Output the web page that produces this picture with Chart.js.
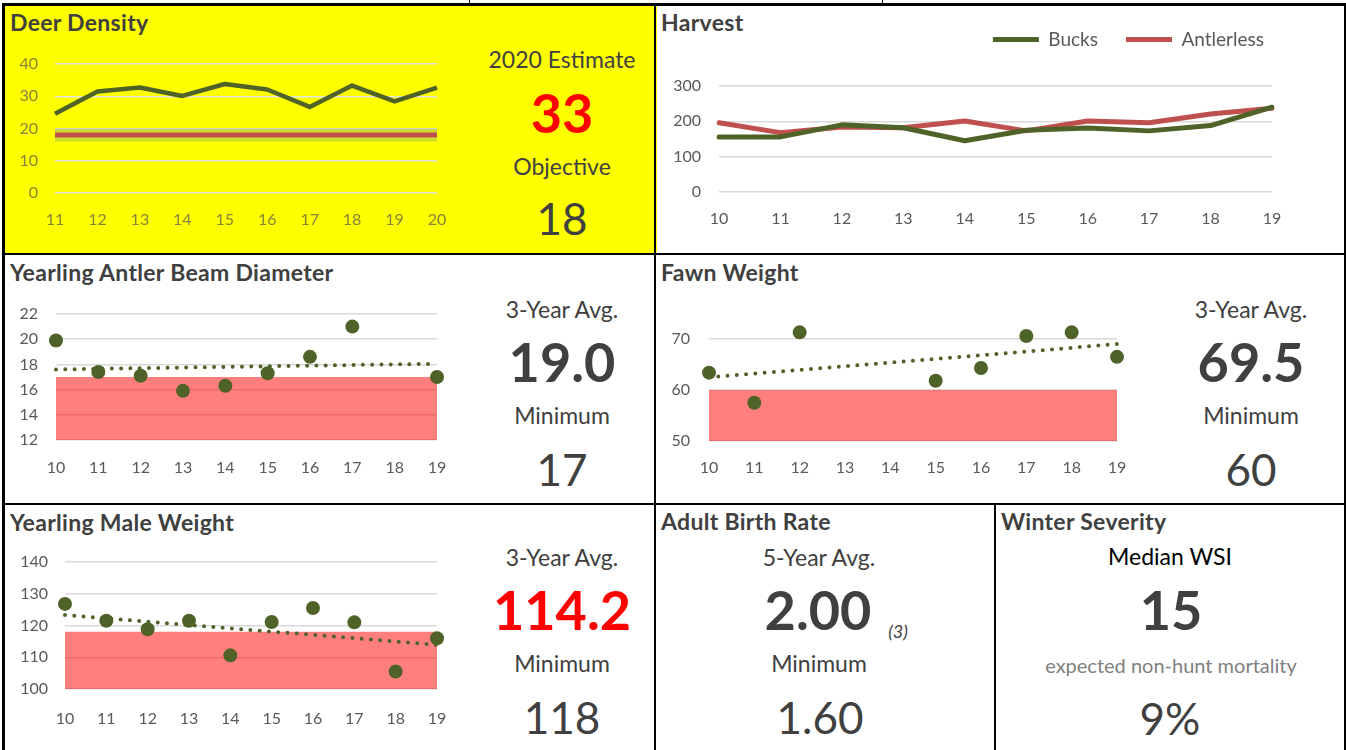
<!DOCTYPE html>
<html>
<head>
<meta charset="utf-8">
<title>Deer Dashboard</title>
<script src="https://cdn.jsdelivr.net/npm/chart.js@4.4.1/dist/chart.umd.min.js"></script>
<style>
  body { margin: 0; background: #fff; font-family: Lato, "Open Sans", sans-serif; }
  #page { position: relative; width: 1346px; height: 750px; overflow: hidden; }
  .ln { position: absolute; background: #000; }
  .t { position: absolute; font-weight: bold; font-size: 23px; letter-spacing: 0.3px; color: #404040; line-height: 1; white-space: nowrap; }
  .c { position: absolute; transform: translate(-50%, -50%); line-height: 1; white-space: nowrap; color: #404040; }
  .lbl { font-size: 23px; }
  .big { font-size: 54px; font-weight: bold; }
  .val { font-size: 44px; }
  .red { color: #ff0000; }
  canvas { position: absolute; }
</style>
</head>
<body>
<div id="page">
  <!-- yellow deer density cell -->
  <div style="position:absolute;left:5px;top:5px;width:650px;height:248px;background:#ffff00"></div>
  <div style="position:absolute;left:656px;top:5px;width:1px;height:248px;background:#ffff00"></div>

  <!-- cell borders -->
  <div class="ln" style="left:469px;top:0;width:1px;height:4px"></div>
  <div class="ln" style="left:882px;top:0;width:1px;height:4px"></div>
  <div class="ln" style="left:2px;top:3px;width:1344px;height:3px"></div>
  <div class="ln" style="left:2px;top:3px;width:3px;height:747px"></div>
  <div class="ln" style="left:1344px;top:3px;width:2px;height:747px"></div>
  <div class="ln" style="left:654px;top:3px;width:2px;height:747px"></div>
  <div class="ln" style="left:2px;top:253px;width:1344px;height:2px"></div>
  <div class="ln" style="left:2px;top:503px;width:1344px;height:2px"></div>
  <div class="ln" style="left:994px;top:503px;width:2px;height:247px"></div>

  <!-- titles -->
  <div class="t" style="left:10px;top:11px">Deer Density</div>
  <div class="t" style="left:661px;top:11px">Harvest</div>
  <div class="t" style="left:10px;top:261px">Yearling Antler Beam Diameter</div>
  <div class="t" style="left:661px;top:261px">Fawn Weight</div>
  <div class="t" style="left:10px;top:511px">Yearling Male Weight</div>
  <div class="t" style="left:661px;top:510px">Adult Birth Rate</div>
  <div class="t" style="left:1001px;top:510px">Winter Severity</div>

  <!-- deer density numbers -->
  <div class="c lbl" style="left:562px;top:59px">2020 Estimate</div>
  <div class="c big red" style="left:562px;top:113px">33</div>
  <div class="c lbl" style="left:562px;top:166px">Objective</div>
  <div class="c val" style="left:562px;top:218px">18</div>

  <!-- antler beam numbers -->
  <div class="c lbl" style="left:562px;top:309px">3-Year Avg.</div>
  <div class="c big" style="left:562px;top:362px">19.0</div>
  <div class="c lbl" style="left:562px;top:415px">Minimum</div>
  <div class="c val" style="left:562px;top:469px">17</div>

  <!-- fawn weight numbers -->
  <div class="c lbl" style="left:1251px;top:309px">3-Year Avg.</div>
  <div class="c big" style="left:1251px;top:362px">69.5</div>
  <div class="c lbl" style="left:1251px;top:415px">Minimum</div>
  <div class="c val" style="left:1251px;top:469px">60</div>

  <!-- yearling male numbers -->
  <div class="c lbl" style="left:562px;top:557px">3-Year Avg.</div>
  <div class="c big red" style="left:562px;top:610px">114.2</div>
  <div class="c lbl" style="left:562px;top:663px">Minimum</div>
  <div class="c val" style="left:562px;top:717px">118</div>

  <!-- adult birth rate -->
  <div class="c lbl" style="left:819px;top:557px">5-Year Avg.</div>
  <div class="c big" style="left:818px;top:610px">2.00</div>
  <div class="c" style="left:898px;top:631px;font-size:18px;font-style:italic">(3)</div>
  <div class="c lbl" style="left:819px;top:663px">Minimum</div>
  <div class="c val" style="left:820px;top:717px">1.60</div>

  <!-- winter severity -->
  <div class="c lbl" style="left:1170px;top:556px;color:#000">Median WSI</div>
  <div class="c big" style="left:1171px;top:610px">15</div>
  <div class="c" style="left:1171px;top:665px;font-size:20px;color:#808080">expected non-hunt mortality</div>
  <div class="c val" style="left:1170px;top:718px">9%</div>

  <canvas id="deerChart" width="454" height="206" style="left:8px;top:34px"></canvas>
  <canvas id="harvestChart" width="627" height="241" style="left:665px;top:2px"></canvas>
  <canvas id="beamChart" width="454" height="206" style="left:8px;top:284px"></canvas>
  <canvas id="fawnChart" width="482" height="190" style="left:660px;top:300px"></canvas>
  <canvas id="maleChart" width="454" height="208" style="left:8px;top:532px"></canvas>
</div>

<script>
// Deer density
const deerYears = ['11', '12', '13', '14', '15', '16', '17', '18', '19', '20'];
const deerDensity = [24.6, 31.5, 32.7, 30.1, 33.8, 32.1, 26.7, 33.3, 28.4, 32.7];
const deerObjective = 18;
const deerBandHigh = 20;
const deerBandLow = 16;

// Harvest
const harvestYears = ['10', '11', '12', '13', '14', '15', '16', '17', '18', '19'];
const bucks = [156, 156, 190, 182, 145, 175, 181, 173, 188, 240];
const antlerless = [196, 168, 184, 182, 201, 173, 201, 196, 221, 237];

// Biological data
const bioYears = ['10', '11', '12', '13', '14', '15', '16', '17', '18', '19'];
const beamDiameter = [19.9, 17.4, 17.1, 15.9, 16.3, 17.3, 18.6, 21.0, null, 17.0];
const beamTrend = [17.6, null, null, null, null, null, null, null, null, 18.05];
const beamMin = 17;
const fawnWeight = [63.4, 57.5, 71.3, null, null, 61.8, 64.3, 70.6, 71.3, 66.5];
const fawnTrend = [62.5, null, null, null, null, null, null, null, null, 69.0];
const fawnMin = 60;
const maleWeight = [126.8, 121.5, 118.8, 121.5, 110.6, 121.1, 125.5, 121.0, 105.5, 116.0];
const maleTrend = [123.3, null, null, null, null, null, null, null, null, 113.9];
const maleMin = 118;

const GREEN = '#4f6228';
const RED = '#c0504d';
const GRID = '#d9d9d9';
const TICK = '#595959';

Chart.defaults.font.family = 'Lato, "Open Sans", sans-serif';
Chart.defaults.font.size = 16;
Chart.defaults.color = TICK;

// build x and y scales with fixed sizes so the plot areas line up with the cells
function axes(opts) {
  return {
    x: {
      offset: false,
      grid: { display: false },
      border: { display: false },
      ticks: { color: opts.tickColor || TICK, padding: opts.xPad || 9, maxRotation: 0, autoSkip: false },
      afterFit: (scale) => { scale.height = opts.xHeight; }
    },
    y: {
      min: opts.min,
      max: opts.max,
      grid: { color: opts.gridColor || GRID, lineWidth: 1.5, drawTicks: false },
      border: { display: false },
      ticks: { color: opts.tickColor || TICK, stepSize: opts.step, padding: opts.yPad },
      afterFit: (scale) => { scale.width = opts.yWidth; }
    }
  };
}

const baseOptions = {
  responsive: false,
  animation: false,
  events: [],
  plugins: { legend: { display: false }, tooltip: { enabled: false } }
};

// Deer density chart
new Chart(document.getElementById('deerChart'), {
  type: 'line',
  data: {
    labels: deerYears,
    datasets: [
      {
        data: deerDensity,
        borderColor: GREEN,
        borderWidth: 4.5,
        pointRadius: 0,
        borderJoinStyle: 'round'
      },
      {
        data: deerYears.map(() => deerObjective),
        borderColor: RED,
        borderWidth: 5,
        pointRadius: 0
      },
      {
        data: deerYears.map(() => deerBandHigh),
        borderWidth: 0,
        pointRadius: 0,
        backgroundColor: 'rgba(155, 187, 89, 0.5)',
        fill: '+1'
      },
      {
        data: deerYears.map(() => deerBandLow),
        borderWidth: 0,
        pointRadius: 0
      }
    ]
  },
  options: {
    ...baseOptions,
    layout: { autoPadding: false, padding: { top: 30, right: 25 } },
    scales: axes({ min: 0, max: 40, step: 10, yWidth: 47, xHeight: 47, yPad: 17,
                   tickColor: '#85853a', gridColor: '#e3e3e3' })
  }
});

// Harvest chart: stretch the legend box so the plot area starts lower
const legendGap = {
  id: 'legendGap',
  beforeInit(chart) {
    const fit = chart.legend.fit;
    chart.legend.fit = function () {
      fit.bind(chart.legend)();
      this.height += 27;
    };
  }
};

const harvestScales = axes({ min: 0, max: 300, step: 100, yWidth: 54, xHeight: 51, yPad: 18 });
// empty right axis keeps the plot narrower than the legend row
harvestScales.y2 = {
  position: 'right',
  grid: { display: false },
  border: { display: false },
  ticks: { display: false },
  afterFit: (scale) => { scale.width = 20; }
};

new Chart(document.getElementById('harvestChart'), {
  type: 'line',
  data: {
    labels: harvestYears,
    datasets: [
      {
        label: 'Bucks',
        data: bucks,
        borderColor: GREEN,
        backgroundColor: GREEN,
        borderWidth: 5,
        borderCapStyle: 'round',
        borderJoinStyle: 'round',
        pointRadius: 0
      },
      {
        label: 'Antlerless',
        data: antlerless,
        borderColor: RED,
        backgroundColor: RED,
        borderWidth: 5,
        borderCapStyle: 'round',
        borderJoinStyle: 'round',
        pointRadius: 0
      }
    ]
  },
  options: {
    ...baseOptions,
    layout: { autoPadding: false },
    plugins: {
      legend: {
        display: true,
        position: 'top',
        align: 'end',
        labels: {
          usePointStyle: true,
          pointStyle: 'line',
          pointStyleWidth: 46,
          padding: 28,
          color: TICK,
          font: { size: 19 }
        }
      },
      tooltip: { enabled: false }
    },
    scales: harvestScales
  },
  plugins: [legendGap]
});

// scatter with dotted trend and red "below minimum" band
function bioChart(id, values, trend, minimum, scaleOpts) {
  return new Chart(document.getElementById(id), {
    type: 'line',
    data: {
      labels: bioYears,
      datasets: [
        {
          data: values,
          showLine: false,
          pointRadius: 7,
          pointBackgroundColor: GREEN,
          pointBorderWidth: 0,
          clip: false
        },
        {
          data: trend,
          spanGaps: true,
          borderColor: GREEN,
          borderWidth: 4,
          borderDash: [0, 9.3],
          borderCapStyle: 'round',
          pointRadius: 0,
          clip: false
        },
        {
          data: bioYears.map(() => minimum),
          borderWidth: 0,
          pointRadius: 0,
          backgroundColor: 'rgba(255, 0, 0, 0.5)',
          fill: 'start'
        }
      ]
    },
    options: {
      ...baseOptions,
      layout: { autoPadding: false, padding: scaleOpts.padding },
      scales: axes(scaleOpts)
    }
  });
}

bioChart('beamChart', beamDiameter, beamTrend, beamMin,
  { min: 12, max: 22, step: 2, yWidth: 48, xHeight: 50, yPad: 18, xPad: 10, padding: { top: 30, right: 25 } });
bioChart('fawnChart', fawnWeight, fawnTrend, fawnMin,
  { min: 50, max: 70, step: 10, yWidth: 49, xHeight: 49, yPad: 19, padding: { top: 39, right: 25 } });
bioChart('maleChart', maleWeight, maleTrend, maleMin,
  { min: 100, max: 140, step: 10, yWidth: 57, xHeight: 51, yPad: 17, xPad: 12, padding: { top: 30, right: 25 } });
</script>
</body>
</html>
